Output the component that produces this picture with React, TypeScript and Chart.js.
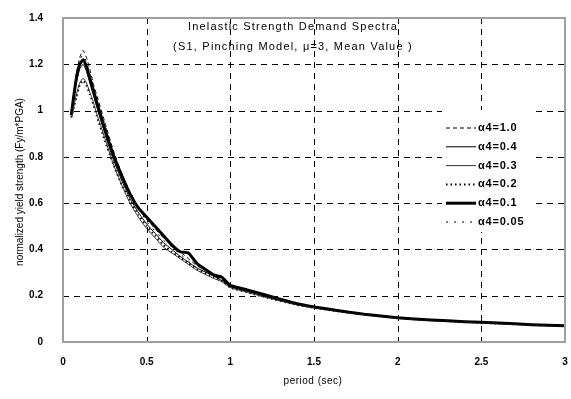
import React, { useEffect, useRef } from "react";
import { Chart, registerables } from "chart.js";
Chart.register(...registerables);

const periods = [0.05,0.06,0.08,0.1,0.12,0.14,0.16,0.18,0.2,0.25,0.3,0.35,0.4,0.45,0.5,0.55,0.6,0.65,0.7,0.75,0.8,0.9,0.95,1.0,1.1,1.2,1.4,1.6,1.8,2.0,2.2,2.4,2.6,2.8,3.0];

const labels = ["α4=1.0","α4=0.4","α4=0.3","α4=0.2","α4=0.1","α4=0.05"];

const s10  = [0.99,1.05,1.16,1.23,1.26,1.23,1.18,1.12,1.07,0.95,0.83,0.73,0.65,0.58,0.53,0.49,0.45,0.42,0.39,0.36,0.33,0.29,0.27,0.245,0.225,0.2,0.163,0.138,0.12,0.105,0.095,0.088,0.081,0.075,0.07];
const s04  = [0.98,1.03,1.12,1.18,1.2,1.17,1.12,1.07,1.02,0.9,0.79,0.7,0.62,0.56,0.51,0.47,0.43,0.4,0.37,0.345,0.32,0.285,0.265,0.24,0.22,0.2,0.163,0.138,0.12,0.104,0.094,0.087,0.081,0.075,0.07];
const s03  = [0.97,1.0,1.07,1.12,1.14,1.12,1.08,1.04,0.99,0.88,0.77,0.68,0.6,0.54,0.49,0.45,0.41,0.385,0.36,0.335,0.31,0.275,0.26,0.235,0.215,0.195,0.16,0.137,0.119,0.104,0.094,0.087,0.08,0.074,0.069];
const s02  = [0.97,1.0,1.06,1.11,1.13,1.11,1.07,1.03,0.98,0.87,0.77,0.68,0.61,0.55,0.5,0.46,0.42,0.39,0.365,0.34,0.315,0.28,0.265,0.235,0.215,0.195,0.16,0.137,0.119,0.104,0.094,0.087,0.08,0.074,0.069];
const s01  = [0.98,1.04,1.14,1.2,1.22,1.19,1.14,1.09,1.04,0.92,0.81,0.72,0.64,0.58,0.54,0.5,0.46,0.42,0.39,0.385,0.34,0.29,0.28,0.245,0.225,0.205,0.165,0.14,0.12,0.105,0.095,0.088,0.082,0.075,0.07];
const s005 = [0.99,1.04,1.15,1.22,1.24,1.21,1.16,1.11,1.06,0.94,0.82,0.73,0.64,0.58,0.52,0.48,0.44,0.41,0.38,0.35,0.32,0.285,0.27,0.24,0.22,0.2,0.164,0.139,0.12,0.105,0.095,0.088,0.081,0.075,0.07];

const seriesValues = [s10, s04, s03, s02, s01, s005];
const dashes = [[4, 3], [], [], [1.5, 3], [], [2, 6]];
const widths = [1, 1, 1, 2, 3, 1];
const colors = ["#000", "#000", "#333", "#000", "#000", "#000"];

const xTicks = [0, 0.5, 1, 1.5, 2, 2.5, 3];
const yTicks = [0, 0.2, 0.4, 0.6, 0.8, 1, 1.2, 1.4];

const titleLines = ["Inelastic Strength Demand Spectra", "(S1, Pinching Model, μ=3, Mean Value )"];
const xTitle = "period (sec)";
const yTitle = "normalized yield strength (Fy/m*PGA)";

const FONT = "Arial, 'Liberation Sans', sans-serif";

const gridPlugin = {
  id: "gridPlugin",
  beforeDatasetsDraw(chart: any) {
    const ctx = chart.ctx;
    const a = chart.chartArea;
    const xs = chart.scales.x;
    const ys = chart.scales.y;
    ctx.save();
    ctx.strokeStyle = "#000";
    ctx.lineWidth = 1;
    ctx.setLineDash([6, 5]);
    xTicks.slice(1, -1).forEach((v) => {
      const px = Math.round(xs.getPixelForValue(v)) + 0.5;
      ctx.beginPath();
      ctx.moveTo(px, a.top);
      ctx.lineTo(px, a.bottom);
      ctx.stroke();
    });
    yTicks.slice(1, -1).forEach((v) => {
      const py = Math.round(ys.getPixelForValue(v)) + 0.5;
      ctx.beginPath();
      ctx.moveTo(a.left, py);
      ctx.lineTo(a.right, py);
      ctx.stroke();
    });
    ctx.setLineDash([]);
    ctx.fillStyle = "#000";
    ctx.font = "bold 10px " + FONT;
    ctx.textAlign = "center";
    ctx.textBaseline = "middle";
    xTicks.forEach((v) => {
      ctx.fillText(String(v), xs.getPixelForValue(v), 362);
    });
    ctx.restore();
  },
};

const decor = {
  id: "decor",
  afterDraw(chart: any) {
    const ctx = chart.ctx;
    const a = chart.chartArea;
    ctx.save();
    ctx.strokeStyle = "#a0a0a0";
    ctx.lineWidth = 2;
    ctx.strokeRect(a.left, a.top, a.right - a.left, a.bottom - a.top);
    ctx.fillStyle = "#000";
    ctx.textAlign = "center";
    ctx.textBaseline = "middle";
    ctx.font = "11px " + FONT;
    (ctx as any).letterSpacing = "1.2px";
    ctx.fillText(titleLines[0], 293, 27);
    ctx.fillText(titleLines[1], 293, 47);
    (ctx as any).letterSpacing = "0.5px";
    ctx.font = "10px " + FONT;
    ctx.fillText(xTitle, 313, 381);
    ctx.save();
    ctx.translate(20, 182);
    ctx.rotate(-Math.PI / 2);
    (ctx as any).letterSpacing = "0px";
    ctx.fillText(yTitle, 0, 0);
    ctx.restore();
    // legend box
    ctx.fillStyle = "#fff";
    ctx.fillRect(442, 110, 92, 122);
    ctx.fillStyle = "#000";
    chart.data.datasets.forEach((ds: any, i: number) => {
      const y = 128 + i * 18.8;
      ctx.save();
      ctx.strokeStyle = ds.borderColor;
      ctx.lineWidth = ds.borderWidth;
      ctx.setLineDash(ds.borderDash || []);
      ctx.beginPath();
      ctx.moveTo(446, y);
      ctx.lineTo(476, y);
      ctx.stroke();
      ctx.restore();
      ctx.font = "bold 11px " + FONT;
      (ctx as any).letterSpacing = "0.8px";
      ctx.textAlign = "left";
      ctx.fillText(ds.label, 478, y);
    });
    ctx.restore();
  },
};

export default function App() {
  const ref = useRef<HTMLCanvasElement>(null);
  useEffect(() => {
    document.body.style.margin = "0";
    const chart = new Chart(ref.current!, {
      type: "line",
      data: {
        datasets: seriesValues.map((vals, i) => ({
          label: labels[i],
          data: periods.map((p, j) => ({ x: p, y: vals[j] })),
          borderColor: colors[i],
          borderWidth: widths[i],
          borderDash: dashes[i],
          pointRadius: 0,
          tension: 0.15,
          fill: false,
        })),
      },
      options: {
        animation: false,
        responsive: false,
        layout: { padding: { top: 13, right: 6, left: 0, bottom: 0 } },
        plugins: { legend: { display: false }, tooltip: { enabled: false } },
        scales: {
          x: {
            type: "linear",
            min: 0,
            max: 3,
            afterBuildTicks: (s: any) => { s.ticks = xTicks.map((v) => ({ value: v })); },
            afterFit: (s: any) => { s.height = 57; },
            ticks: { display: false },
            grid: { display: false },
            border: { display: false },
          },
          y: {
            min: 0,
            max: 1.4,
            afterBuildTicks: (s: any) => { s.ticks = yTicks.map((v) => ({ value: v })); },
            afterFit: (s: any) => { s.width = 63; },
            ticks: {
              color: "#000",
              font: { size: 10, weight: "bold", family: FONT },
              padding: 12,
              callback: (v: any) => String(Math.round(v * 10) / 10),
            },
            grid: { display: false },
            border: { display: false },
          },
        },
      },
      plugins: [gridPlugin, decor],
    });
    return () => chart.destroy();
  }, []);
  return (
    <div style={{ width: 571, height: 399 }}>
      <canvas ref={ref} width={571} height={399} style={{ display: "block" }} />
    </div>
  );
}
